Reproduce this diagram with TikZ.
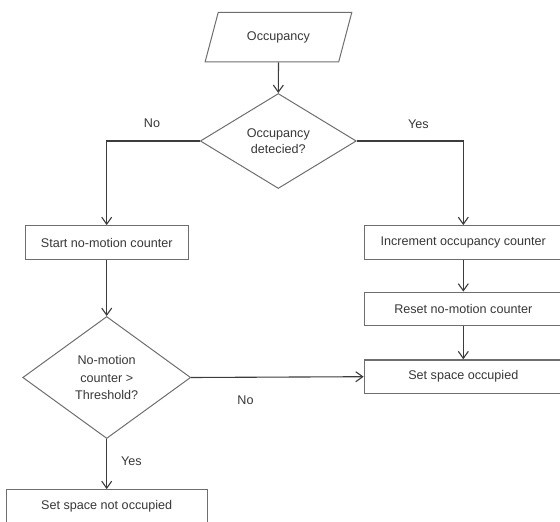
\documentclass[tikz,border=0pt]{standalone}
\usepackage{fontspec}
\setmainfont{Liberation Sans}
\usetikzlibrary{shapes.geometric,arrows.meta}

\definecolor{linegray}{RGB}{60,60,60}
\definecolor{boxgray}{RGB}{110,110,110}
\definecolor{txtgray}{RGB}{55,55,55}

\tikzset{
  flowtxt/.style={text=txtgray,font=\fontsize{12.6}{16}\selectfont,align=center},
  procbox/.style={flowtxt,draw=boxgray,line width=1.3pt,rectangle,inner sep=0pt,minimum height=33.5pt},
  decision/.style={flowtxt,draw=boxgray,line width=1pt,diamond,inner sep=0pt},
  flowarr/.style={draw=linegray,line width=1.1pt,-{Straight Barb[length=7pt,width=10pt,line width=1.1pt]}},
}

\begin{document}
\begin{tikzpicture}[x=1pt,y=1pt,yscale=-1,xscale=1]
\useasboundingbox (0,0) rectangle (560,522);

%Shape: Parallelogram [id:inp]
\node [flowtxt,draw=boxgray,line width=1pt,trapezium,trapezium left angle=59,trapezium right angle=121,trapezium stretches=true,minimum width=147pt,minimum height=49.5pt,inner sep=0pt] (inp) at (278.5,37) {Occupancy};
%Shape: Diamond [id:det]
\node [decision,aspect=1.64,minimum width=156pt,minimum height=95pt] (det) at (278.3,141) {Occupancy\\detecied?};
%Shape: Rectangle [id:start]
\node [procbox,minimum width=163pt] (start) at (106.7,242.5) {Start no-motion counter};
%Shape: Rectangle [id:incr]
\node [procbox,minimum width=198pt] (incr) at (463.3,242.5) {Increment occupancy counter};
%Shape: Rectangle [id:reset]
\node [procbox,minimum width=198pt] (reset) at (463.3,309) {Reset no-motion counter};
%Shape: Rectangle [id:occ]
\node [procbox,minimum width=198pt] (occ) at (463.3,376.7) {Set space occupied};
%Shape: Diamond [id:thr]
\node [decision,aspect=1.38,minimum width=168pt,minimum height=122pt,font=\fontsize{12.6}{17.6}\selectfont] (thr) at (106.7,377.5) {No-motion\\counter >\\Threshold?};
%Shape: Rectangle [id:notocc]
\node [procbox,minimum width=201pt] (notocc) at (106.7,506.5) {Set space not occupied};

%Straight Lines [id:arrows]
\draw [flowarr] (inp.south) -- (det.north) ;
\draw [flowarr] (det.west) -| (start.north) ;
\draw [flowarr] (det.east) -| (incr.north) ;
\draw [flowarr] (start.south) -- (thr.north) ;
\draw [flowarr] (incr.south) -- (reset.north) ;
\draw [flowarr] (reset.south) -- (occ.north) ;
\draw [flowarr] (thr.east) -- (occ.west) ;
\draw [flowarr] (thr.south) -- (notocc.north) ;

%Text labels
\node [flowtxt] (detno) at (152,123.5) {No};
\node [flowtxt] (detyes) at (418.5,124) {Yes};
\node [flowtxt] (thrno) at (245.5,400) {No};
\node [flowtxt] (thryes) at (131.5,461.5) {Yes};

\end{tikzpicture}
\end{document}
